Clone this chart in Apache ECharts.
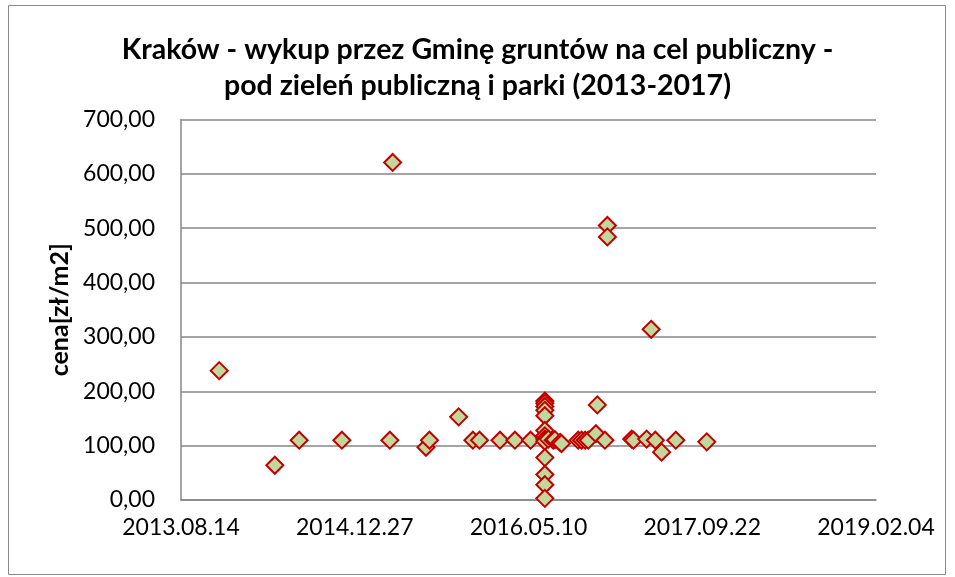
<!DOCTYPE html>
<html>
<head>
<meta charset="utf-8">
<script src="https://cdn.jsdelivr.net/npm/echarts@6/dist/echarts.min.js"></script>
<style>
  html, body { margin: 0; padding: 0; background: #fff; }
  #main { width: 955px; height: 577px; }
</style>
</head>
<body>
<div id="main"></div>
<script>
// daty jako numery seryjne Excela (dni od 1899-12-30)
var dni = [41610, 41770, 41840, 41963, 42101, 42109, 42205, 42215, 42299, 42340,
  42359, 42418, 42461, 42506,
  42547, 42547, 42547, 42547, 42547, 42547, 42547, 42547, 42547, 42547, 42547, 42547, 42547,
  42557, 42571, 42576, 42591, 42595, 42643, 42653, 42663, 42672, 42694,
  42698, 42720, 42727, 42727, 42797, 42802, 42840, 42853, 42865, 42883, 42924, 43013];
var ceny = [238, 64, 110, 110, 110, 621, 97, 110, 153, 110,
  110, 110, 110, 110,
  182, 178, 172, 165, 155, 128, 118, 112, 108, 78, 47, 28, 3,
  112, 110, 111, 106, 104, 110, 110, 110, 110, 122,
  175, 110, 505, 484, 112, 110, 112, 314, 110, 88, 110, 107];

var xMin = 41500, xMax = 43500, xStep = 500;
var yMin = 0, yMax = 700, yStep = 100;

var punkty = dni.map(function (d, i) { return [d, ceny[i]]; });

function dataExcel(v) {
  var d = new Date(Date.UTC(1899, 11, 30) + Math.round(v) * 86400000);
  var mm = ('0' + (d.getUTCMonth() + 1)).slice(-2);
  var dd = ('0' + d.getUTCDate()).slice(-2);
  return d.getUTCFullYear() + '.' + mm + '.' + dd;
}

var chart = echarts.init(document.getElementById('main'));
chart.setOption({
  animation: false,
  textStyle: { fontFamily: 'Lato' },
  title: {
    text: 'Kraków - wykup przez Gminę gruntów na cel publiczny -\npod zieleń publiczną i parki (2013-2017)',
    left: 'center',
    top: 27,
    textStyle: { fontSize: 28.5, fontWeight: 'bold', color: '#000', lineHeight: 36, fontFamily: 'Lato' }
  },
  graphic: [{
    type: 'rect',
    shape: { x: 8.5, y: 5.5, width: 937, height: 569 },
    style: { fill: 'none', stroke: '#898989', lineWidth: 1 }
  }],
  grid: { left: 181, right: 79, top: 119.5, bottom: 77 },
  xAxis: {
    type: 'value',
    min: xMin, max: xMax, interval: xStep,
    axisLine: { show: true, lineStyle: { color: '#868686', width: 1.5 } },
    axisTick: { show: false },
    splitLine: { show: false },
    axisLabel: { formatter: dataExcel, color: '#000', fontSize: 23, margin: 16, fontFamily: 'Lato' }
  },
  yAxis: {
    type: 'value',
    min: yMin, max: yMax, interval: yStep,
    name: 'cena[zł/m2]',
    nameLocation: 'middle',
    nameGap: 109,
    nameTextStyle: { fontSize: 25, fontWeight: 'bold', color: '#000', fontFamily: 'Lato' },
    axisLine: { show: true, lineStyle: { color: '#868686', width: 1.5 } },
    axisTick: { show: false },
    splitLine: { lineStyle: { color: '#868686', width: 1.5 } },
    axisLabel: {
      formatter: function (v) { return v.toFixed(2).replace('.', ','); },
      color: '#000', fontSize: 23, margin: 26, fontFamily: 'Lato'
    }
  },
  series: [{
    type: 'scatter',
    data: punkty,
    symbol: 'diamond',
    symbolSize: 17,
    itemStyle: { color: '#C3D69B', borderColor: '#C00000', borderWidth: 2, opacity: 1 }
  }]
});
</script>
</body>
</html>
